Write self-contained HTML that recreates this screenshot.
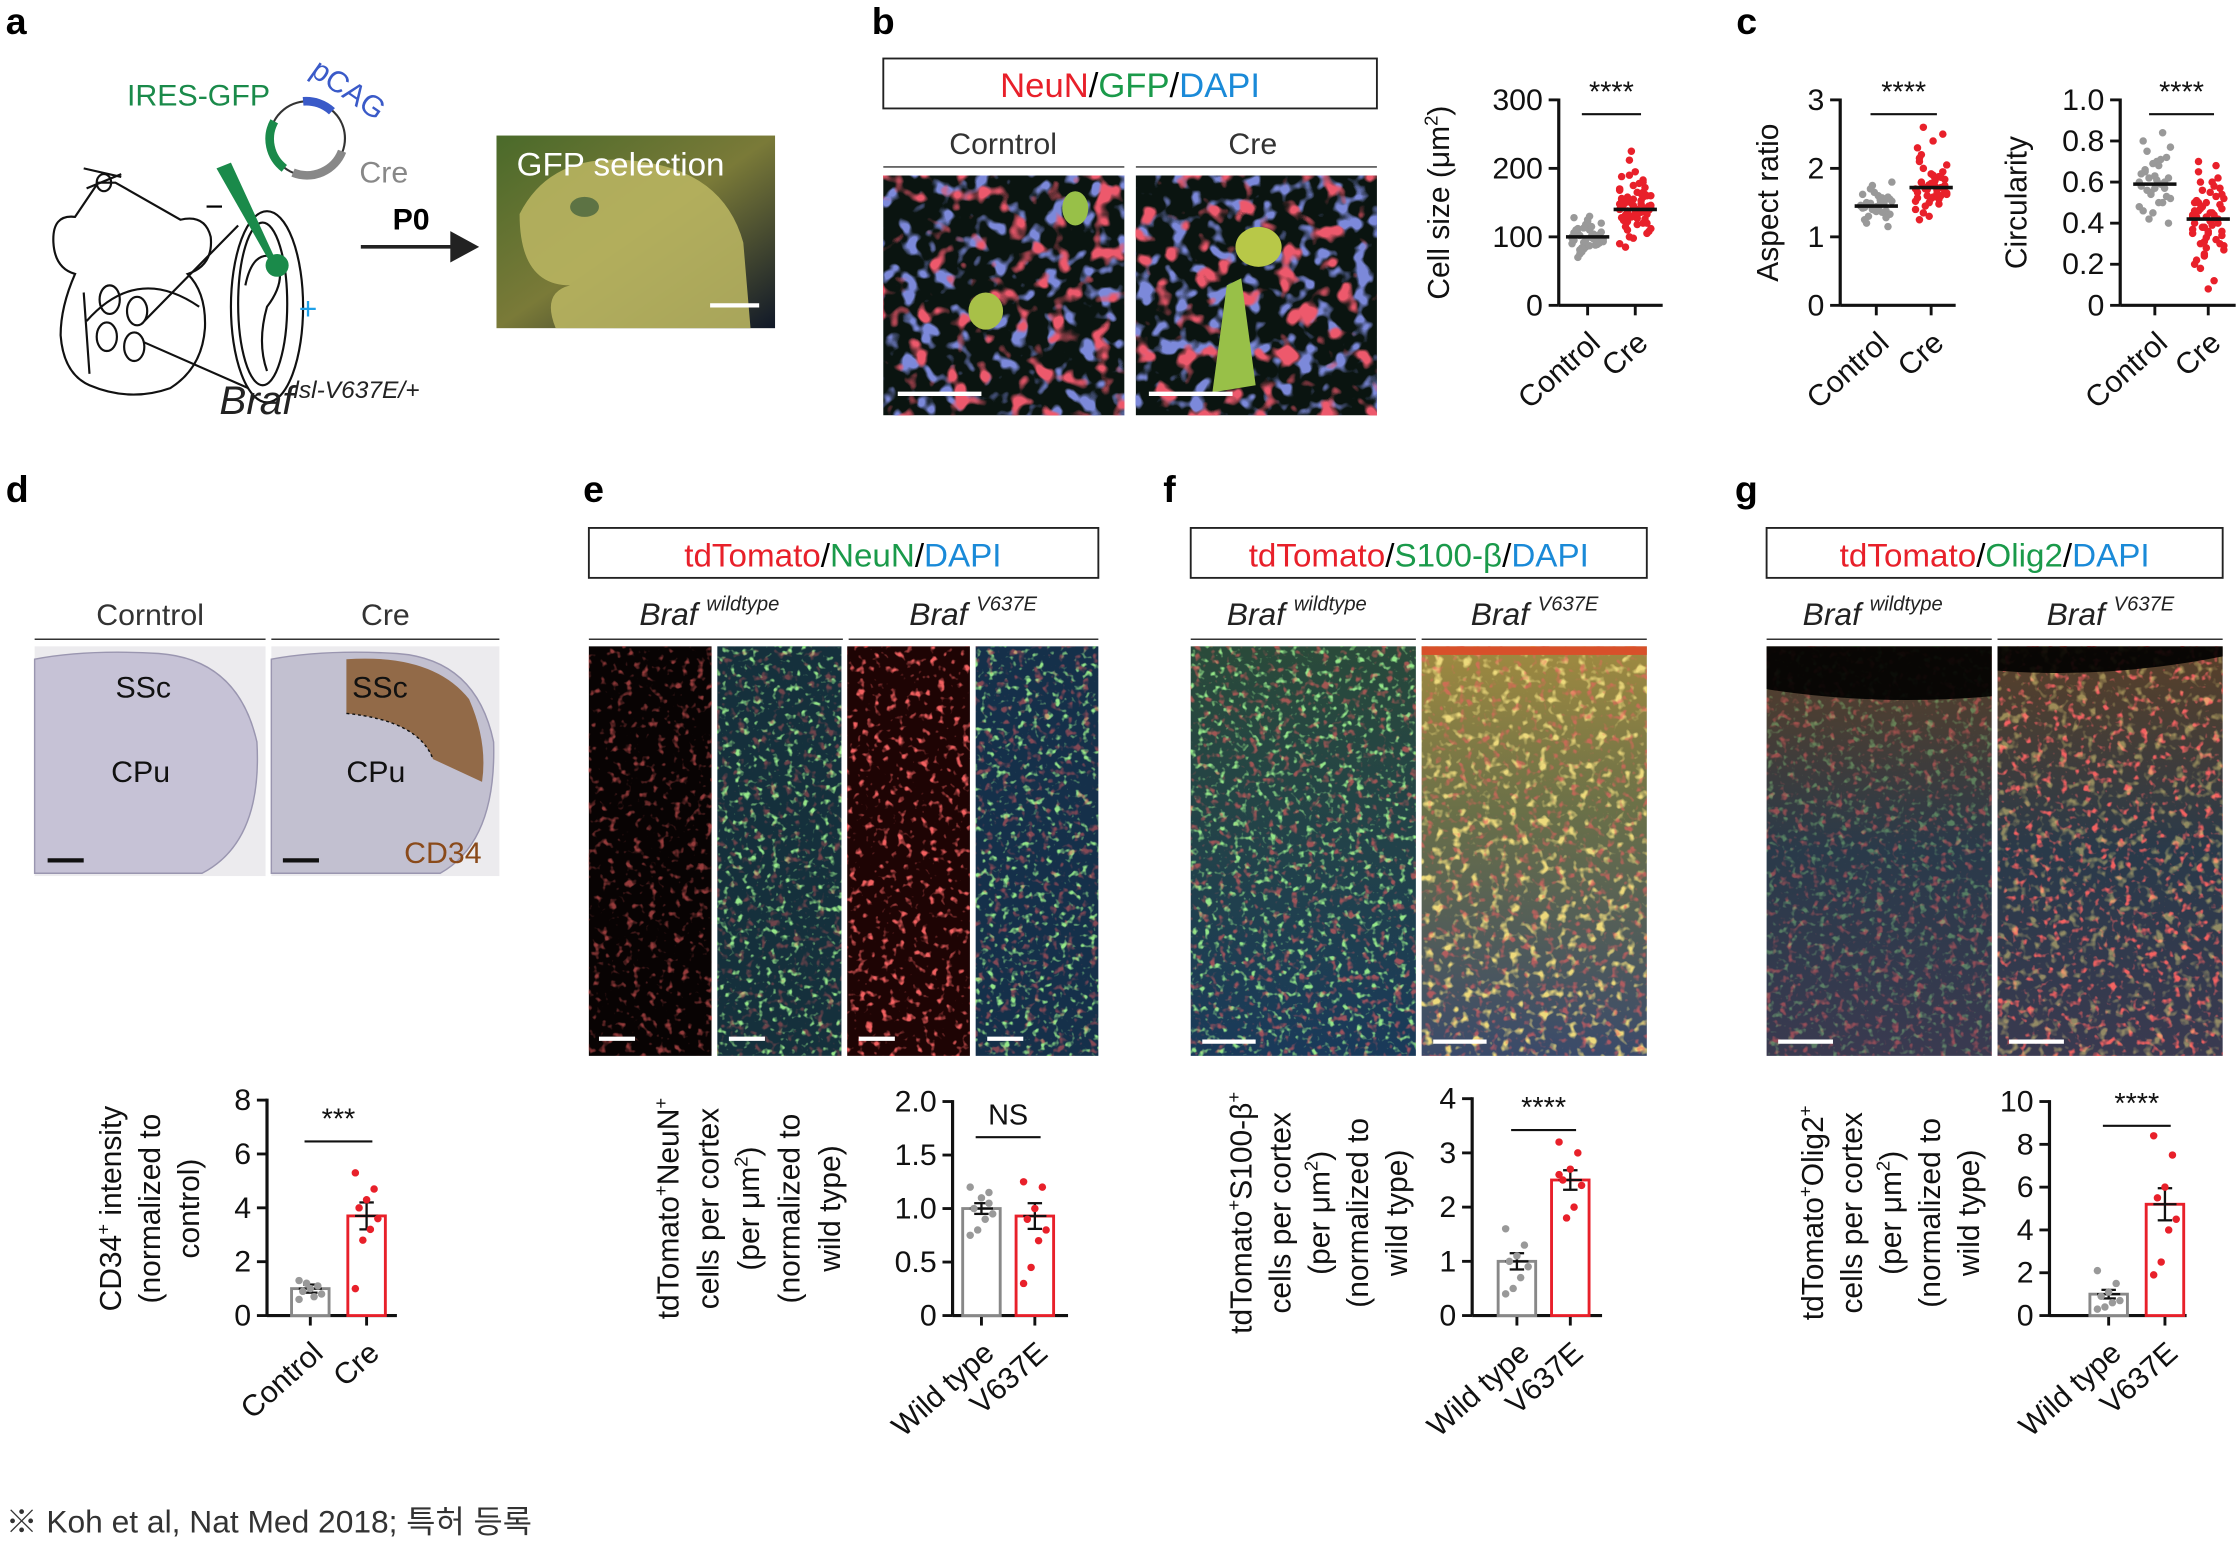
<!DOCTYPE html>
<html><head><meta charset="utf-8">
<style>
html,body{margin:0;padding:0;background:#fff;}
svg{display:block;font-family:"Liberation Sans","Noto Sans CJK KR",sans-serif;}
</style></head>
<body>
<svg id="fig" width="2240" height="1541" viewBox="0 0 1552 1080" preserveAspectRatio="none" xmlns="http://www.w3.org/2000/svg">
<defs>
  <filter id="redBlob" x="0" y="0" width="100%" height="100%">
    <feTurbulence type="fractalNoise" baseFrequency="0.07" numOctaves="2" seed="3"/>
    <feColorMatrix values="0 0 0 0 0.85  0 0 0 0 0.1  0 0 0 0 0.15  7 0 0 0 -4.0"/>
  </filter>
  <filter id="blueBlob" x="0" y="0" width="100%" height="100%">
    <feTurbulence type="fractalNoise" baseFrequency="0.08" numOctaves="2" seed="9"/>
    <feColorMatrix values="0 0 0 0 0.2  0 0 0 0 0.25  0 0 0 0 0.7  7 0 0 0 -3.8"/>
  </filter>
  <filter id="redSpeck" x="0" y="0" width="100%" height="100%">
    <feTurbulence type="fractalNoise" baseFrequency="0.18" numOctaves="2" seed="3"/>
    <feColorMatrix values="0 0 0 0 0.9  0 0 0 0 0.12  0 0 0 0 0.12  5 0 0 0 -2.9"/>
  </filter>
  <filter id="greenSpeck" x="0" y="0" width="100%" height="100%">
    <feTurbulence type="fractalNoise" baseFrequency="0.2" numOctaves="2" seed="8"/>
    <feColorMatrix values="0 0 0 0 0.3  0 0 0 0 0.8  0 0 0 0 0.25  5 0 0 0 -2.9"/>
  </filter>
  <filter id="yellowSpeck" x="0" y="0" width="100%" height="100%">
    <feTurbulence type="fractalNoise" baseFrequency="0.15" numOctaves="2" seed="12"/>
    <feColorMatrix values="0 0 0 0 0.85  0 0 0 0 0.7  0 0 0 0 0.2  5 0 0 0 -2.8"/>
  </filter>
  <filter id="blueSpeck" x="0" y="0" width="100%" height="100%">
    <feTurbulence type="fractalNoise" baseFrequency="0.12" numOctaves="2" seed="5"/>
    <feColorMatrix values="0 0 0 0 0.15  0 0 0 0 0.25  0 0 0 0 0.6  4 0 0 0 -2.0"/>
  </filter>
  <linearGradient id="gfpGrad" x1="0" y1="0" x2="1" y2="1">
    <stop offset="0" stop-color="#4a6a2a"/><stop offset="0.5" stop-color="#7a7a38"/><stop offset="1" stop-color="#101828"/>
  </linearGradient>
  <linearGradient id="ctxTeal" x1="0" y1="0" x2="0" y2="1">
    <stop offset="0" stop-color="#2a4a3a"/><stop offset="1" stop-color="#1a3a5a"/>
  </linearGradient>
  <linearGradient id="ctxYellow" x1="0" y1="0" x2="0" y2="1">
    <stop offset="0" stop-color="#a08a40"/><stop offset="0.4" stop-color="#6a7048"/><stop offset="1" stop-color="#3a4a6a"/>
  </linearGradient>
  <linearGradient id="ctxOlig" x1="0" y1="0" x2="0" y2="1">
    <stop offset="0" stop-color="#5a4028"/><stop offset="0.5" stop-color="#2a3a4a"/><stop offset="1" stop-color="#3a3a50"/>
  </linearGradient>
</defs>

<!-- ================= Panel a ================= -->
<g>
  <text x="4" y="24" font-size="26" font-weight="bold">a</text>
  <g fill="none" stroke="#111" stroke-width="1.5">
    <path d="M68 128 L52 152 Q36 150 37 170 Q38 188 52 192 Q42 215 42 235 Q44 262 62 270 Q90 282 118 272 Q140 258 142 230 Q143 205 130 192 Q148 186 146 166 Q142 150 125 154 L80 128 Z"/>
    <ellipse cx="72" cy="128" rx="5" ry="6"/>
    <path d="M58 118 L84 124 M60 132 L84 122"/>
    <path d="M60 225 Q95 185 138 215 M58 205 L62 262"/>
    <ellipse cx="76" cy="210" rx="7" ry="10"/><ellipse cx="95" cy="218" rx="7" ry="10"/>
    <ellipse cx="74" cy="236" rx="7" ry="10"/><ellipse cx="93" cy="243" rx="7" ry="10"/>
    <path d="M100 225 L165 158 M100 240 L172 272"/>
    <ellipse cx="185" cy="215" rx="25" ry="67"/>
    <ellipse cx="182" cy="213" rx="17" ry="57"/>
    <path d="M170 200 Q175 175 190 180 Q200 195 185 215 Q178 240 185 260"/>
  </g>
  <path d="M150 118 L160 114 L190 180 L186 182 Z" fill="#1a8a4a"/>
  <circle cx="192" cy="186" r="8" fill="#1a8a4a"/>
  <text x="142" y="152" font-size="22">−</text>
  <text x="207" y="224" font-size="22" fill="#1ea0e8">+</text>
  <g>
    <circle cx="213" cy="97" r="26" fill="none" stroke="#333" stroke-width="1.5"/>
    <path d="M190 85 A26 26 0 0 0 197 118" fill="none" stroke="#1a8a4a" stroke-width="6"/>
    <path d="M210 71 A26 26 0 0 1 230 78" fill="none" stroke="#3a5ac8" stroke-width="6"/>
    <path d="M237 106 A26 26 0 0 1 203 121" fill="none" stroke="#888" stroke-width="6"/>
  </g>
  <text x="88" y="74" font-size="21" fill="#1a8a4a">IRES-GFP</text>
  <text x="214" y="52" font-size="21" fill="#3a5ac8" transform="rotate(35 214 52)">pCAG</text>
  <text x="249" y="128" font-size="21" fill="#888">Cre</text>
  <text x="152" y="290" font-size="28" font-style="italic" fill="#222">Braf<tspan font-size="17" dy="-11">lsl-V637E/+</tspan></text>
  <text x="272" y="161" font-size="21" font-weight="bold">P0</text>
  <line x1="250" y1="173" x2="315" y2="173" stroke="#222" stroke-width="2.5"/>
  <path d="M312 162 L332 173 L312 184 Z" fill="#222"/>
  <g>
    <rect x="344" y="95" width="193" height="135" fill="url(#gfpGrad)"/>
    <path d="M360 150 Q380 110 430 112 Q500 115 515 170 L520 230 L385 230 Q375 205 395 200 Q360 200 360 150 Z" fill="#b8b460" opacity="0.9"/>
    <ellipse cx="405" cy="145" rx="10" ry="7" fill="#3a5a3a" opacity="0.7"/>
    <text x="358" y="123" font-size="23" fill="#fff">GFP selection</text>
    <line x1="492" y1="214" x2="526" y2="214" stroke="#fff" stroke-width="3"/>
  </g>
</g>

<!-- ================= Panel b ================= -->
<g>
  <text x="604" y="24" font-size="26" font-weight="bold">b</text>
  <rect x="612" y="41" width="342" height="35" fill="none" stroke="#222" stroke-width="1.3"/>
  <text x="783" y="68" font-size="24" text-anchor="middle"><tspan fill="#e8202a">NeuN</tspan>/<tspan fill="#1a9a4a">GFP</tspan>/<tspan fill="#1a8ad8">DAPI</tspan></text>
  <text x="695" y="108" font-size="21" text-anchor="middle" fill="#333">Corntrol</text>
  <text x="868" y="108" font-size="21" text-anchor="middle" fill="#333">Cre</text>
  <line x1="612" y1="117" x2="779" y2="117" stroke="#333"/>
  <line x1="787" y1="117" x2="954" y2="117" stroke="#333"/>
  <g>
    <rect x="612" y="123" width="167" height="168" fill="#0a1410"/>
    <rect x="612" y="123" width="167" height="168" filter="url(#blueBlob)"/>
    <rect x="612" y="123" width="167" height="168" filter="url(#redBlob)"/>
    <ellipse cx="683" cy="218" rx="12" ry="13" fill="#a8c048"/>
    <ellipse cx="745" cy="146" rx="9" ry="12" fill="#98c048"/>
    <line x1="622" y1="276" x2="680" y2="276" stroke="#fff" stroke-width="3"/>
  </g>
  <g>
    <rect x="787" y="123" width="167" height="168" fill="#0a1410"/>
    <rect x="787" y="123" width="167" height="168" filter="url(#blueBlob)"/>
    <rect x="787" y="123" width="167" height="168" filter="url(#redBlob)"/>
    <ellipse cx="872" cy="173" rx="16" ry="14" fill="#b8c848"/>
    <path d="M850 200 L860 195 L870 270 L840 275 Z" fill="#98c048"/>
    <line x1="796" y1="276" x2="854" y2="276" stroke="#fff" stroke-width="3"/>
  </g>
  <g id="chartB"></g>
</g>

<!-- ================= Panel c ================= -->
<g>
  <text x="1203" y="24" font-size="26" font-weight="bold">c</text>
  <g id="chartC1"></g>
  <g id="chartC2"></g>
</g>

<!-- ================= Panel d ================= -->
<g>
  <text x="4" y="352" font-size="26" font-weight="bold">d</text>
  <text x="104" y="438" font-size="21" text-anchor="middle" fill="#333">Corntrol</text>
  <text x="267" y="438" font-size="21" text-anchor="middle" fill="#333">Cre</text>
  <line x1="24" y1="448" x2="184" y2="448" stroke="#333"/>
  <line x1="188" y1="448" x2="346" y2="448" stroke="#333"/>
  <g>
    <rect x="24" y="453" width="160" height="161" fill="#ecebee"/>
    <path d="M24 462 Q60 455 110 458 Q165 462 178 520 Q182 590 140 612 L24 612 Z" fill="#c6c2d6" stroke="#9a96b0"/>
    <text x="80" y="489" font-size="21" fill="#111">SSc</text>
    <text x="77" y="548" font-size="21" fill="#111">CPu</text>
    <line x1="33" y1="603" x2="58" y2="603" stroke="#111" stroke-width="3"/>
  </g>
  <g>
    <rect x="188" y="453" width="158" height="161" fill="#ecebee"/>
    <path d="M188 462 Q225 455 275 458 Q330 462 342 520 Q344 590 305 612 L188 612 Z" fill="#c2c0d0" stroke="#9a96b0"/>
    <path d="M240 462 Q300 458 325 490 Q338 520 334 548 L300 532 Q290 505 240 500 Z" fill="#8a5a30" opacity="0.85"/>
    <path d="M240 500 Q290 505 300 532" fill="none" stroke="#111" stroke-dasharray="2 2"/>
    <text x="244" y="489" font-size="21" fill="#111">SSc</text>
    <text x="240" y="548" font-size="21" fill="#111">CPu</text>
    <text x="280" y="605" font-size="21" fill="#8a4a1a">CD34</text>
    <line x1="196" y1="603" x2="221" y2="603" stroke="#111" stroke-width="3"/>
  </g>
  <g id="chartD"></g>
</g>

<!-- ================= Panel e ================= -->
<g>
  <text x="404" y="352" font-size="26" font-weight="bold">e</text>
  <rect x="408" y="370" width="353" height="35" fill="none" stroke="#222" stroke-width="1.3"/>
  <text x="584" y="397" font-size="23" text-anchor="middle"><tspan fill="#e8202a">tdTomato</tspan>/<tspan fill="#1a9a4a">NeuN</tspan>/<tspan fill="#1a8ad8">DAPI</tspan></text>
  <text x="443" y="438" font-size="22" font-style="italic" fill="#222">Braf <tspan font-size="14" dy="-10">wildtype</tspan></text>
  <text x="630" y="438" font-size="22" font-style="italic" fill="#222">Braf <tspan font-size="14" dy="-10">V637E</tspan></text>
  <line x1="408" y1="448" x2="584" y2="448" stroke="#333"/>
  <line x1="588" y1="448" x2="761" y2="448" stroke="#333"/>
  <g>
    <rect x="408" y="453" width="85" height="287" fill="#080303"/>
    <rect x="408" y="453" width="85" height="287" filter="url(#redSpeck)" opacity="0.6"/>
    <rect x="497" y="453" width="86" height="287" fill="#15303c"/>
    <rect x="497" y="453" width="86" height="287" filter="url(#greenSpeck)"/>
    <rect x="497" y="453" width="86" height="287" filter="url(#redSpeck)" opacity="0.4"/>
    <rect x="587" y="453" width="85" height="287" fill="#1e0404"/>
    <rect x="587" y="453" width="85" height="287" filter="url(#redSpeck)"/>
    <rect x="676" y="453" width="85" height="287" fill="#15304a"/>
    <rect x="676" y="453" width="85" height="287" filter="url(#greenSpeck)"/>
    <rect x="676" y="453" width="85" height="287" filter="url(#redSpeck)" opacity="0.5"/>
    <line x1="415" y1="728" x2="440" y2="728" stroke="#fff" stroke-width="3"/>
    <line x1="505" y1="728" x2="530" y2="728" stroke="#fff" stroke-width="3"/>
    <line x1="595" y1="728" x2="620" y2="728" stroke="#fff" stroke-width="3"/>
    <line x1="684" y1="728" x2="709" y2="728" stroke="#fff" stroke-width="3"/>
  </g>
  <g id="chartE"></g>
</g>

<!-- ================= Panel f ================= -->
<g>
  <text x="806" y="352" font-size="26" font-weight="bold">f</text>
  <rect x="825" y="370" width="316" height="35" fill="none" stroke="#222" stroke-width="1.3"/>
  <text x="983" y="397" font-size="23" text-anchor="middle"><tspan fill="#e8202a">tdTomato</tspan>/<tspan fill="#1a9a4a">S100-β</tspan>/<tspan fill="#1a8ad8">DAPI</tspan></text>
  <text x="850" y="438" font-size="22" font-style="italic" fill="#222">Braf <tspan font-size="14" dy="-10">wildtype</tspan></text>
  <text x="1019" y="438" font-size="22" font-style="italic" fill="#222">Braf <tspan font-size="14" dy="-10">V637E</tspan></text>
  <line x1="825" y1="448" x2="981" y2="448" stroke="#333"/>
  <line x1="985" y1="448" x2="1141" y2="448" stroke="#333"/>
  <g>
    <rect x="825" y="453" width="156" height="287" fill="url(#ctxTeal)"/>
    <rect x="825" y="453" width="156" height="287" filter="url(#greenSpeck)"/>
    <rect x="825" y="453" width="156" height="287" filter="url(#redSpeck)" opacity="0.6"/>
    <rect x="985" y="453" width="156" height="287" fill="url(#ctxYellow)"/>
    <rect x="985" y="453" width="156" height="287" filter="url(#yellowSpeck)"/>
    <rect x="985" y="453" width="156" height="287" filter="url(#redSpeck)" opacity="0.6"/>
    <rect x="985" y="453" width="156" height="6" fill="#d8502a"/>
    <line x1="833" y1="730" x2="870" y2="730" stroke="#fff" stroke-width="3"/>
    <line x1="993" y1="730" x2="1030" y2="730" stroke="#fff" stroke-width="3"/>
  </g>
  <g id="chartF"></g>
</g>

<!-- ================= Panel g ================= -->
<g>
  <text x="1202" y="352" font-size="26" font-weight="bold">g</text>
  <rect x="1224" y="370" width="316" height="35" fill="none" stroke="#222" stroke-width="1.3"/>
  <text x="1382" y="397" font-size="23" text-anchor="middle"><tspan fill="#e8202a">tdTomato</tspan>/<tspan fill="#1a9a4a">Olig2</tspan>/<tspan fill="#1a8ad8">DAPI</tspan></text>
  <text x="1249" y="438" font-size="22" font-style="italic" fill="#222">Braf <tspan font-size="14" dy="-10">wildtype</tspan></text>
  <text x="1418" y="438" font-size="22" font-style="italic" fill="#222">Braf <tspan font-size="14" dy="-10">V637E</tspan></text>
  <line x1="1224" y1="448" x2="1380" y2="448" stroke="#333"/>
  <line x1="1384" y1="448" x2="1540" y2="448" stroke="#333"/>
  <g>
    <rect x="1224" y="453" width="156" height="287" fill="url(#ctxOlig)"/>
    <rect x="1224" y="453" width="156" height="287" filter="url(#redSpeck)" opacity="0.5"/>
    <rect x="1224" y="453" width="156" height="287" filter="url(#greenSpeck)" opacity="0.4"/>
    <path d="M1224 453 L1380 453 L1380 488 Q1300 495 1224 483 Z" fill="#000" opacity="0.9"/>
    <rect x="1384" y="453" width="156" height="287" fill="url(#ctxOlig)"/>
    <rect x="1384" y="453" width="156" height="287" filter="url(#redSpeck)"/>
    <rect x="1384" y="453" width="156" height="287" filter="url(#yellowSpeck)" opacity="0.5"/>
    <path d="M1384 453 L1540 453 L1540 460 Q1460 476 1384 470 Z" fill="#000" opacity="0.9"/>
    <line x1="1232" y1="730" x2="1270" y2="730" stroke="#fff" stroke-width="3"/>
    <line x1="1392" y1="730" x2="1430" y2="730" stroke="#fff" stroke-width="3"/>
  </g>
  <g id="chartG"></g>
</g>

<text x="4" y="1074" font-size="22" fill="#333">※ Koh et al, Nat Med 2018; 특허 등록</text>
</svg>

<script>
// ---------- data ----------
const bGroups = ["Control", "Cre"];
const bControl = [98,105,92,110,88,120,95,102,85,115,100,93,108,78,125,97,103,90,112,82,130,99,94,106,75,118,101,89,96,110,84,122,104,91,100,70,113,87,97,107,128,81,95,99,102];
const bCre = [140,150,130,165,120,145,155,110,175,135,142,160,125,190,138,148,105,170,132,152,118,183,144,128,158,98,137,162,146,124,212,141,153,133,168,115,149,127,180,139,156,122,143,135,172,112,147,131,195,136,160,90,151,129,140,165,108,145,138,155,178,126,142,150,100,134,163,120,148,85,225,137,158,141,188,132,146];
const bMeans = [100, 140];
const bTicks = [0,100,200,300];

const arGroups = ["Control", "Cre"];
const arControl = [1.45,1.5,1.4,1.6,1.35,1.55,1.42,1.3,1.65,1.48,1.38,1.52,1.25,1.7,1.44,1.36,1.58,1.46,1.2,1.75,1.41,1.5,1.33,1.62,1.47,1.39,1.54,1.28,1.8,1.43,1.49,1.37,1.57,1.15,1.45];
const arCre = [1.7,1.8,1.6,1.9,1.55,1.75,1.65,2.0,1.5,1.85,1.72,1.62,2.1,1.45,1.78,1.68,1.95,1.4,2.2,1.73,1.58,1.88,1.66,2.3,1.35,1.76,1.82,1.6,2.05,1.25,1.7,1.92,1.63,2.5,1.52,1.79,1.69,2.4,1.48,1.84,1.57,2.6,1.3,1.74,1.87,1.64,2.15,1.71,1.56];
const arMeans = [1.45, 1.72];
const arTicks = [0,1,2,3];

const ciGroups = ["Control", "Cre"];
const ciControl = [0.6,0.65,0.55,0.7,0.5,0.62,0.58,0.75,0.45,0.68,0.57,0.52,0.8,0.42,0.63,0.59,0.72,0.48,0.66,0.54,0.61,0.84,0.4,0.64,0.56,0.69,0.5,0.6,0.77,0.46,0.62,0.57,0.71,0.53];
const ciCre = [0.43,0.5,0.38,0.55,0.32,0.47,0.4,0.6,0.28,0.45,0.42,0.52,0.22,0.48,0.36,0.58,0.3,0.44,0.65,0.25,0.41,0.53,0.34,0.46,0.18,0.5,0.39,0.62,0.27,0.43,0.56,0.35,0.12,0.49,0.37,0.7,0.31,0.45,0.42,0.54,0.2,0.47,0.33,0.6,0.4,0.29,0.51,0.38,0.08,0.44,0.57,0.35,0.46,0.24,0.41,0.68,0.36,0.5,0.3,0.43];
const ciMeans = [0.59, 0.42];
const ciTicks = [0,0.2,0.4,0.6,0.8,1.0];

const dGroups = ["Control", "Cre"];
const dControl = [1.3,1.1,1.0,0.9,0.8,0.7,1.2,0.6];
const dCre = [5.3,4.7,4.3,4.0,3.6,3.2,2.8,1.0];
const dMeans = [1.0, 3.7];
const dSem = [0.15, 0.5];
const dTicks = [0,2,4,6,8];

const eGroups = ["Wild type", "V637E"];
const eWT = [1.2,1.15,1.1,1.0,0.95,0.9,0.8,0.75,1.05];
const eMut = [1.25,1.2,1.0,0.9,0.8,0.7,0.45,0.3];
const eMeans = [1.0, 0.93];
const eSem = [0.05, 0.12];
const eTicks = [0,0.5,1.0,1.5,2.0];

const fGroups = ["Wild type", "V637E"];
const fWT = [1.6,1.3,1.1,1.0,0.9,0.7,0.5,0.4];
const fMut = [3.2,3.0,2.7,2.5,2.4,2.0,1.8,2.6];
const fMeans = [1.0, 2.5];
const fSem = [0.15, 0.18];
const fTicks = [0,1,2,3,4];

const gGroups = ["Wild type", "V637E"];
const gWT = [2.1,1.5,1.1,0.9,0.7,0.6,0.4,0.3];
const gMut = [8.4,7.5,6.0,5.5,4.5,4.0,2.5,1.9];
const gMeans = [1.0, 5.2];
const gSem = [0.2, 0.75];
const gTicks = [0,2,4,6,8,10];

// ---------- helpers ----------
const NS = "http://www.w3.org/2000/svg";
function el(tag, parent, attrs) {
  const e = document.createElementNS(NS, tag);
  for (const k in attrs) e.setAttribute(k, attrs[k]);
  parent.appendChild(e);
  return e;
}
function fmt(v, ticks) {
  return ticks.some(t => t % 1 !== 0) ? v.toFixed(1) : String(v);
}

function axes(g, cfg) {
  const yScale = v => cfg.y0 - (v - cfg.min) / (cfg.max - cfg.min) * (cfg.y0 - cfg.y1);
  const yAxis = el("line", g, {x1: cfg.x0, y1: cfg.y1 - 1, x2: cfg.x0, y2: cfg.y0, stroke: "#111", "stroke-width": 2.2});
  
  
  const xAxis = el("line", g, {x1: cfg.x0, y1: cfg.y0, x2: cfg.x0 + cfg.w, y2: cfg.y0, stroke: "#111", "stroke-width": 2.2});
  
  
  cfg.ticks.forEach(t => {
    const y = yScale(t);
    const tk = el("line", g, {x1: cfg.x0 - 7, y1: y, x2: cfg.x0, y2: y, stroke: "#111", "stroke-width": 2});
    
    
    const lb = el("text", g, {x: cfg.x0 - 11, y: y + 7, "font-size": 21, "text-anchor": "end", fill: "#111"});
    lb.textContent = (cfg.zeroInt && t === 0) ? "0" : fmt(t, cfg.ticks);
    
    
  });
  cfg.xs.forEach((x, i) => {
    const tk = el("line", g, {x1: x, y1: cfg.y0, x2: x, y2: cfg.y0 + 7, stroke: "#111", "stroke-width": 2});
    
    
    const lx = x + 10, ly = cfg.y0 + 28;
    const lb = el("text", g, {x: lx, y: ly, "font-size": 21, "text-anchor": "end", fill: "#111", transform: `rotate(-42 ${lx} ${ly})`});
    lb.textContent = cfg.groups[i];
    
    
  });
  cfg.ylabel.forEach((line, i) => {
    const x = cfg.ylx + i * cfg.lgap;
    const t = el("text", g, {x: x, y: cfg.yly, "font-size": 21, "text-anchor": "middle", fill: "#111", transform: `rotate(-90 ${x} ${cfg.yly})`});
    t.innerHTML = line;
    
    
  });
  const sl = el("line", g, {x1: cfg.xs[0] - 4, y1: cfg.sigY, x2: cfg.xs[1] + 4, y2: cfg.sigY, stroke: "#111", "stroke-width": 1.5});
  
  
  const st = el("text", g, {x: (cfg.xs[0] + cfg.xs[1]) / 2, y: cfg.sigY - 9, "font-size": 20, "text-anchor": "middle", fill: "#111"});
  st.textContent = cfg.sig;
  
  
  return yScale;
}

function scatterChart(gid, cfg, series, means, colors) {
  const g = document.getElementById(gid);
  const ys = axes(g, cfg);
  series.forEach((vals, s) => {
    vals.forEach((v, i) => {
      const dx = (((i * 37) % 17) - 8) * 1.35;
      const c = el("circle", g, {cx: cfg.xs[s] + dx, cy: ys(v), r: 2.6, fill: colors[s]});
      
      
    });
    const m = el("line", g, {x1: cfg.xs[s] - 15, y1: ys(means[s]), x2: cfg.xs[s] + 15, y2: ys(means[s]), stroke: "#111", "stroke-width": 2.5});
    
    
  });
}

function barChart(gid, cfg, series, means, sem) {
  const g = document.getElementById(gid);
  const ys = axes(g, cfg);
  const strokes = ["#888", "#e8202a"];
  const dots = ["#999", "#e8202a"];
  series.forEach((vals, s) => {
    const x = cfg.xs[s], bw = 26;
    const b = el("rect", g, {x: x - bw / 2, y: ys(means[s]), width: bw, height: ys(0) - ys(means[s]), fill: "#fff", stroke: strokes[s], "stroke-width": 2});
    
    
    const e1 = el("line", g, {x1: x, y1: ys(means[s] - sem[s]), x2: x, y2: ys(means[s] + sem[s]), stroke: "#111", "stroke-width": 1.6});
    
    
    [means[s] - sem[s], means[s], means[s] + sem[s]].forEach((v, k) => {
      const hw = k === 1 ? 8 : 5;
      const c = el("line", g, {x1: x - hw, y1: ys(v), x2: x + hw, y2: ys(v), stroke: "#111", "stroke-width": 1.6});
      
      
    });
    vals.forEach((v, i) => {
      const dx = (((i * 5) % 7) - 3) * 2.6;
      const c = el("circle", g, {cx: x + dx, cy: ys(v), r: 2.6, fill: dots[s]});
      
      
    });
  });
}

// ---------- draw ----------
scatterChart("chartB", {x0: 1080, y0: 214, y1: 70, w: 72, min: 0, max: 300, ticks: bTicks, xs: [1100, 1133], groups: bGroups,
  ylabel: ["Cell size (μm<tspan font-size='13' dy='-8'>2</tspan><tspan dy='8'>)</tspan>"], ylx: 1004, yly: 142, lgap: 0, sigY: 80, sig: "****"},
  [bControl, bCre], bMeans, ["#999", "#e8202a"]);

scatterChart("chartC1", {x0: 1275, y0: 214, y1: 70, w: 80, min: 0, max: 3, ticks: arTicks, xs: [1300, 1338], groups: arGroups,
  ylabel: ["Aspect ratio"], ylx: 1232, yly: 142, lgap: 0, sigY: 80, sig: "****"},
  [arControl, arCre], arMeans, ["#999", "#e8202a"]);

scatterChart("chartC2", {x0: 1469, y0: 214, y1: 70, w: 80, min: 0, max: 1.0, ticks: ciTicks, zeroInt: true, xs: [1493, 1530], groups: ciGroups,
  ylabel: ["Circularity"], ylx: 1404, yly: 142, lgap: 0, sigY: 80, sig: "****"},
  [ciControl, ciCre], ciMeans, ["#999", "#e8202a"]);

barChart("chartD", {x0: 185, y0: 922, y1: 771, w: 90, min: 0, max: 8, ticks: dTicks, xs: [215, 254], groups: dGroups,
  ylabel: ["CD34<tspan font-size='13' dy='-8'>+</tspan><tspan dy='8'> intensity</tspan>", "(normalized to", "control)"], ylx: 84, yly: 847, lgap: 27, sigY: 800, sig: "***"},
  [dControl, dCre], dMeans, dSem);

barChart("chartE", {x0: 660, y0: 922, y1: 772, w: 80, min: 0, max: 2.0, ticks: eTicks, zeroInt: true, xs: [680, 717], groups: eGroups,
  ylabel: ["tdTomato<tspan font-size='13' dy='-8'>+</tspan><tspan dy='8'>NeuN</tspan><tspan font-size='13' dy='-8'>+</tspan>", "cells per cortex", "(per μm<tspan font-size='13' dy='-8'>2</tspan><tspan dy='8'>)</tspan>", "(normalized to", "wild type)"], ylx: 470, yly: 847, lgap: 28, sigY: 797, sig: "NS"},
  [eWT, eMut], eMeans, eSem);

barChart("chartF", {x0: 1020, y0: 922, y1: 770, w: 90, min: 0, max: 4, ticks: fTicks, xs: [1051, 1088], groups: fGroups,
  ylabel: ["tdTomato<tspan font-size='13' dy='-8'>+</tspan><tspan dy='8'>S100-β</tspan><tspan font-size='13' dy='-8'>+</tspan>", "cells per cortex", "(per μm<tspan font-size='13' dy='-8'>2</tspan><tspan dy='8'>)</tspan>", "(normalized to", "wild type)"], ylx: 867, yly: 850, lgap: 27, sigY: 792, sig: "****"},
  [fWT, fMut], fMeans, fSem);

barChart("chartG", {x0: 1420, y0: 922, y1: 772, w: 95, min: 0, max: 10, ticks: gTicks, xs: [1461, 1500], groups: gGroups,
  ylabel: ["tdTomato<tspan font-size='13' dy='-8'>+</tspan><tspan dy='8'>Olig2</tspan><tspan font-size='13' dy='-8'>+</tspan>", "cells per cortex", "(per μm<tspan font-size='13' dy='-8'>2</tspan><tspan dy='8'>)</tspan>", "(normalized to", "wild type)"], ylx: 1263, yly: 850, lgap: 27, sigY: 789, sig: "****"},
  [gWT, gMut], gMeans, gSem);
</script>
</body></html>
